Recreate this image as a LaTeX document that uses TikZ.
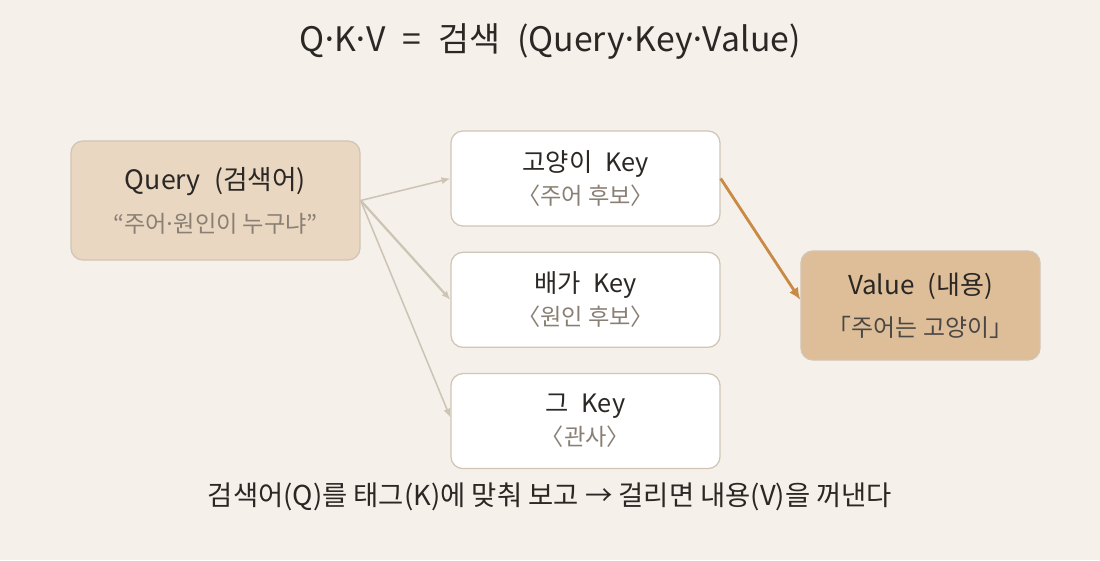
\documentclass[tikz,border=0pt]{standalone}
\usepackage{fontspec}
\setmainfont{Noto Sans CJK KR}
\usepackage{xcolor}
\usetikzlibrary{arrows.meta,positioning}

\definecolor{paper}{HTML}{F5F0EA}
\definecolor{ink}{HTML}{2A2724}
\definecolor{hintgray}{HTML}{8A7F74}
\definecolor{edge}{HTML}{D1C5B5}
\definecolor{queryfill}{HTML}{E9D7C1}
\definecolor{valuefill}{HTML}{DEBE98}
\definecolor{linkgray}{HTML}{CDC4B6}
\definecolor{pickorange}{HTML}{C88A45}

\newcommand{\hinttext}[2][hintgray]{{\fontsize{16.5}{16.5}\selectfont\color{#1}#2}}
\newcommand{\middot}{\makebox[0.3em]{·}}

\begin{document}
\begin{tikzpicture}[
    x=0.025cm, y=-0.025cm,
    node distance=0.625cm,
    box/.style={draw=edge, line width=0.9pt, rounded corners=0.3cm, align=center, inner sep=0pt, text=ink},
    querybox/.style={box, fill=queryfill, minimum width=7.225cm, minimum height=2.975cm, font=\fontsize{19}{30.6}\selectfont},
    keybox/.style={box, fill=white, minimum width=6.725cm, minimum height=2.375cm, font=\fontsize{18}{23.5}\selectfont},
    valuebox/.style={box, fill=valuefill, minimum width=5.975cm, minimum height=2.725cm, font=\fontsize{18.5}{29.9}\selectfont},
    link/.style={-{Latex[length=2.2mm,width=1.8mm]}, draw=linkgray, line width=1.1pt},
    pick/.style={-{Latex[length=3mm,width=2.6mm]}, draw=pickorange, line width=2pt}
]
\useasboundingbox (0,0) rectangle (1100,560);
\fill[paper] (0,0) rectangle (1100,560);

\node[font=\fontsize{24}{24}\selectfont, text=ink] (title) at (550,42) {Q\middot K\middot V\enspace=\enspace{}검색\enspace(Query\middot Key\middot Value)};

\node[querybox] (query) at (215.5,200.5) {Query\enspace(검색어)\\\hinttext{“주어\middot{}원인이 누구냐”}};
\node[keybox] (cat) at (585.5,178.5) {고양이\enspace{}Key\\\hinttext{〈주어 후보〉}};
\node[keybox, below=of cat] (pear) {배가\enspace{}Key\\\hinttext{〈원인 후보〉}};
\node[keybox, below=of pear] (the) {그\enspace{}Key\\\hinttext{〈관사〉}};
\node[valuebox] (value) at (920.5,305.5) {Value\enspace(내용)\\\hinttext[ink!85]{\fontsize{17}{17}\selectfont「주어는 고양이」}};

\node[font=\fontsize{19.5}{19.5}\selectfont, text=ink] (caption) at (550,497) {검색어(Q)를 태그(K)에 맞춰 보고 → 걸리면 내용(V)을 꺼낸다};

\draw[link] (query.east) -- (cat.west);
\draw[link, line width=1.6pt] (query.east) -- (pear.west);
\draw[link] (query.east) -- ([yshift=0.09cm]the.west);
\draw[pick] (cat.east) -- ([yshift=0.14cm]value.west);
\end{tikzpicture}
\end{document}
